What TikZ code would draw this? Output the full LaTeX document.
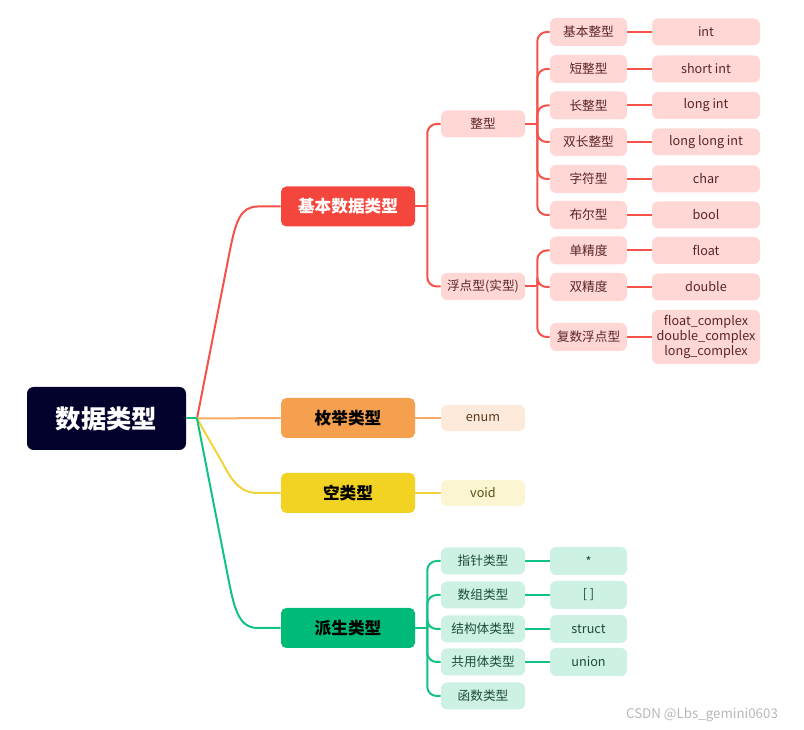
\documentclass[tikz,border=0pt]{standalone}
\usepackage{fontspec}
\setmainfont{Noto Sans CJK SC}
\usetikzlibrary{calc}
\definecolor{rootc}{HTML}{02022C}
\definecolor{redc}{HTML}{F5463D}
\definecolor{redl}{HTML}{F5524A}
\definecolor{pinkc}{HTML}{FFD7D5}
\definecolor{pinkt}{HTML}{5A2624}
\definecolor{orac}{HTML}{F5A04E}
\definecolor{oral}{HTML}{F6AA66}
\definecolor{oralt}{HTML}{FDEADB}
\definecolor{orat}{HTML}{5A3A20}
\definecolor{yelc}{HTML}{F2D323}
\definecolor{yell}{HTML}{F2D33C}
\definecolor{yellt}{HTML}{FCF5D1}
\definecolor{yelt}{HTML}{5A4E1A}
\definecolor{grnc}{HTML}{00BB77}
\definecolor{grnl}{HTML}{12C282}
\definecolor{grnlt}{HTML}{CDF1E3}
\definecolor{grnt}{HTML}{1C4D3A}
\definecolor{wmark}{HTML}{B8B8B8}
\tikzset{
  base/.style={inner sep=0pt, align=center},
  rootbox/.style={base, fill=rootc, text=white, minimum width=119.25pt, minimum height=47.25pt, rounded corners=5pt, font=\bfseries\fontsize{19}{22}\selectfont},
  lonebox/.style={base, minimum width=100.5pt, minimum height=30pt, rounded corners=4pt, font=\bfseries\fontsize{12.5}{15}\selectfont},
  leafbox/.style={base, rounded corners=4.5pt, font=\fontsize{9.5}{11.3}\selectfont},
  wtwo/.style={leafbox, minimum width=63pt, minimum height=20.25pt},
  wthree/.style={leafbox, minimum width=57.75pt, minimum height=21pt},
  wfour/.style={leafbox, minimum width=81pt, minimum height=20.25pt},
  pinkbox/.style={fill=pinkc, text=pinkt},
  grnbox/.style={fill=grnlt, text=grnt},
  conn/.style={line width=1.5pt},
  rconn/.style={conn, draw=redl},
  gconn/.style={conn, draw=grnl},
  elbow/.style={rounded corners=7pt},
}
\begin{document}
\begin{tikzpicture}[x=0.75pt, y=-0.75pt]
\useasboundingbox (0,0) rectangle (804,730);
% root
\node[rootbox] (root) at (106.5,418.5) {数据类型};
\coordinate (rj) at (197,418.5);
% level 1
\node[lonebox, fill=redc, text=white] (b1) at (348,206.5) {基本数据类型};
\node[lonebox, fill=orac, text=black] (b2) at (348,418) {枚举类型};
\node[lonebox, fill=yelc, text=black] (b3) at (348,493) {空类型};
\node[lonebox, fill=grnc, text=black] (b4) at (348,628) {派生类型};
% level 2 red
\node[wtwo, pinkbox] (z) at (483,124) {整型};
\node[wtwo, pinkbox] (f) at (483,286.5) {浮点型(实型)};
% level 3 red
\node[wthree, pinkbox] (z1) at (588.5,32) {基本整型};
\node[wthree, pinkbox] (z2) at (588.5,69) {短整型};
\node[wthree, pinkbox] (z3) at (588.5,105.5) {长整型};
\node[wthree, pinkbox] (z4) at (588.5,142) {双长整型};
\node[wthree, pinkbox] (z5) at (588.5,179) {字符型};
\node[wthree, pinkbox] (z6) at (588.5,215) {布尔型};
\node[wthree, pinkbox] (f1) at (588.5,250.5) {单精度};
\node[wthree, pinkbox] (f2) at (588.5,287) {双精度};
\node[wthree, pinkbox] (f3) at (588.5,337) {复数浮点型};
% level 4 red
\node[wfour, pinkbox] (v1) at (706,32) {int};
\node[wfour, pinkbox] (v2) at (706,69) {short int};
\node[wfour, pinkbox] (v3) at (706,105.5) {long int};
\node[wfour, pinkbox] (v4) at (706,142) {long long int};
\node[wfour, pinkbox] (v5) at (706,179) {char};
\node[wfour, pinkbox] (v6) at (706,215) {bool};
\node[wfour, pinkbox] (w1) at (706,250.5) {float};
\node[wfour, pinkbox] (w2) at (706,287) {double};
\node[wfour, pinkbox, minimum height=40.5pt] (w3) at (706,337) {float\_complex\\double\_complex\\long\_complex};
% enum, void
\node[wtwo, fill=oralt, text=orat, minimum height=19.5pt] (e) at (483,418) {enum};
\node[wtwo, fill=yellt, text=yelt, minimum height=19.5pt] (v) at (483,493) {void};
% green
\node[wtwo, grnbox] (g1) at (483,561) {指针类型};
\node[wtwo, grnbox] (g2) at (483,595) {数组类型};
\node[wtwo, grnbox] (g3) at (483,629) {结构体类型};
\node[wtwo, grnbox] (g4) at (483,662) {共用体类型};
\node[wtwo, grnbox] (g5) at (483,696) {函数类型};
\node[wthree, grnbox] (h1) at (588.5,561) {*};
\node[wthree, grnbox] (h2) at (588.5,595) {[ ]};
\node[wthree, grnbox] (h3) at (588.5,629) {struct};
\node[wthree, grnbox] (h4) at (588.5,662) {union};
% root connectors
\draw[conn, draw=redl] (rj) -- (230,250) .. controls (236,220) and (241,206.5) .. (258,206.5) -- (b1.west);
\draw[conn, draw=oral] (rj) -- (b2.west);
\draw[conn, draw=yell] (rj) -- (222,462) .. controls (230,477) and (238,493) .. (258,493) -- (b3.west);
\draw[gconn] (rj) -- (229,582) .. controls (235,612) and (240,628) .. (258,628) -- (b4.west);
\draw[gconn] (root.east) -- (rj);
% red level 1 -> 2
\draw[rconn] (b1.east) -- ++(12,0) coordinate (bj);
\foreach \c in {z,f} \draw[rconn, elbow] (bj) |- (\c.west);
% 整型 -> level 3
\draw[rconn] (z.east) -- ++(12,0) coordinate (zj);
\foreach \c in {z1,z2,z3,z4,z5,z6} \draw[rconn, elbow] (zj) |- (\c.west);
\draw[rconn] (f.east) -- ++(12,0) coordinate (fj);
\foreach \c in {f1,f2,f3} \draw[rconn, elbow] (fj) |- (\c.west);
% level 3 -> 4
\foreach \a/\b in {z1/v1,z2/v2,z3/v3,z4/v4,z5/v5,z6/v6,f1/w1,f2/w2,f3/w3}
  \draw[rconn] (\a.east) -- (\b.west);
% orange & yellow
\draw[conn, draw=oral] (b2.east) -- (e.west);
\draw[conn, draw=yell] (b3.east) -- (v.west);
% green
\draw[gconn] (b4.east) -- ++(12,0) coordinate (gj);
\foreach \c in {g1,g2,g3,g4,g5} \draw[gconn, elbow] (gj) |- (\c.west);
\foreach \a/\b in {g1/h1,g2/h2,g3/h3,g4/h4} \draw[gconn] (\a.east) -- (\b.west);
% watermark
\node[text=wmark, font=\fontsize{10}{11}\selectfont, inner sep=0pt] (wm) at (702,715) {CSDN @Lbs\_gemini0603};
\end{tikzpicture}
\end{document}
